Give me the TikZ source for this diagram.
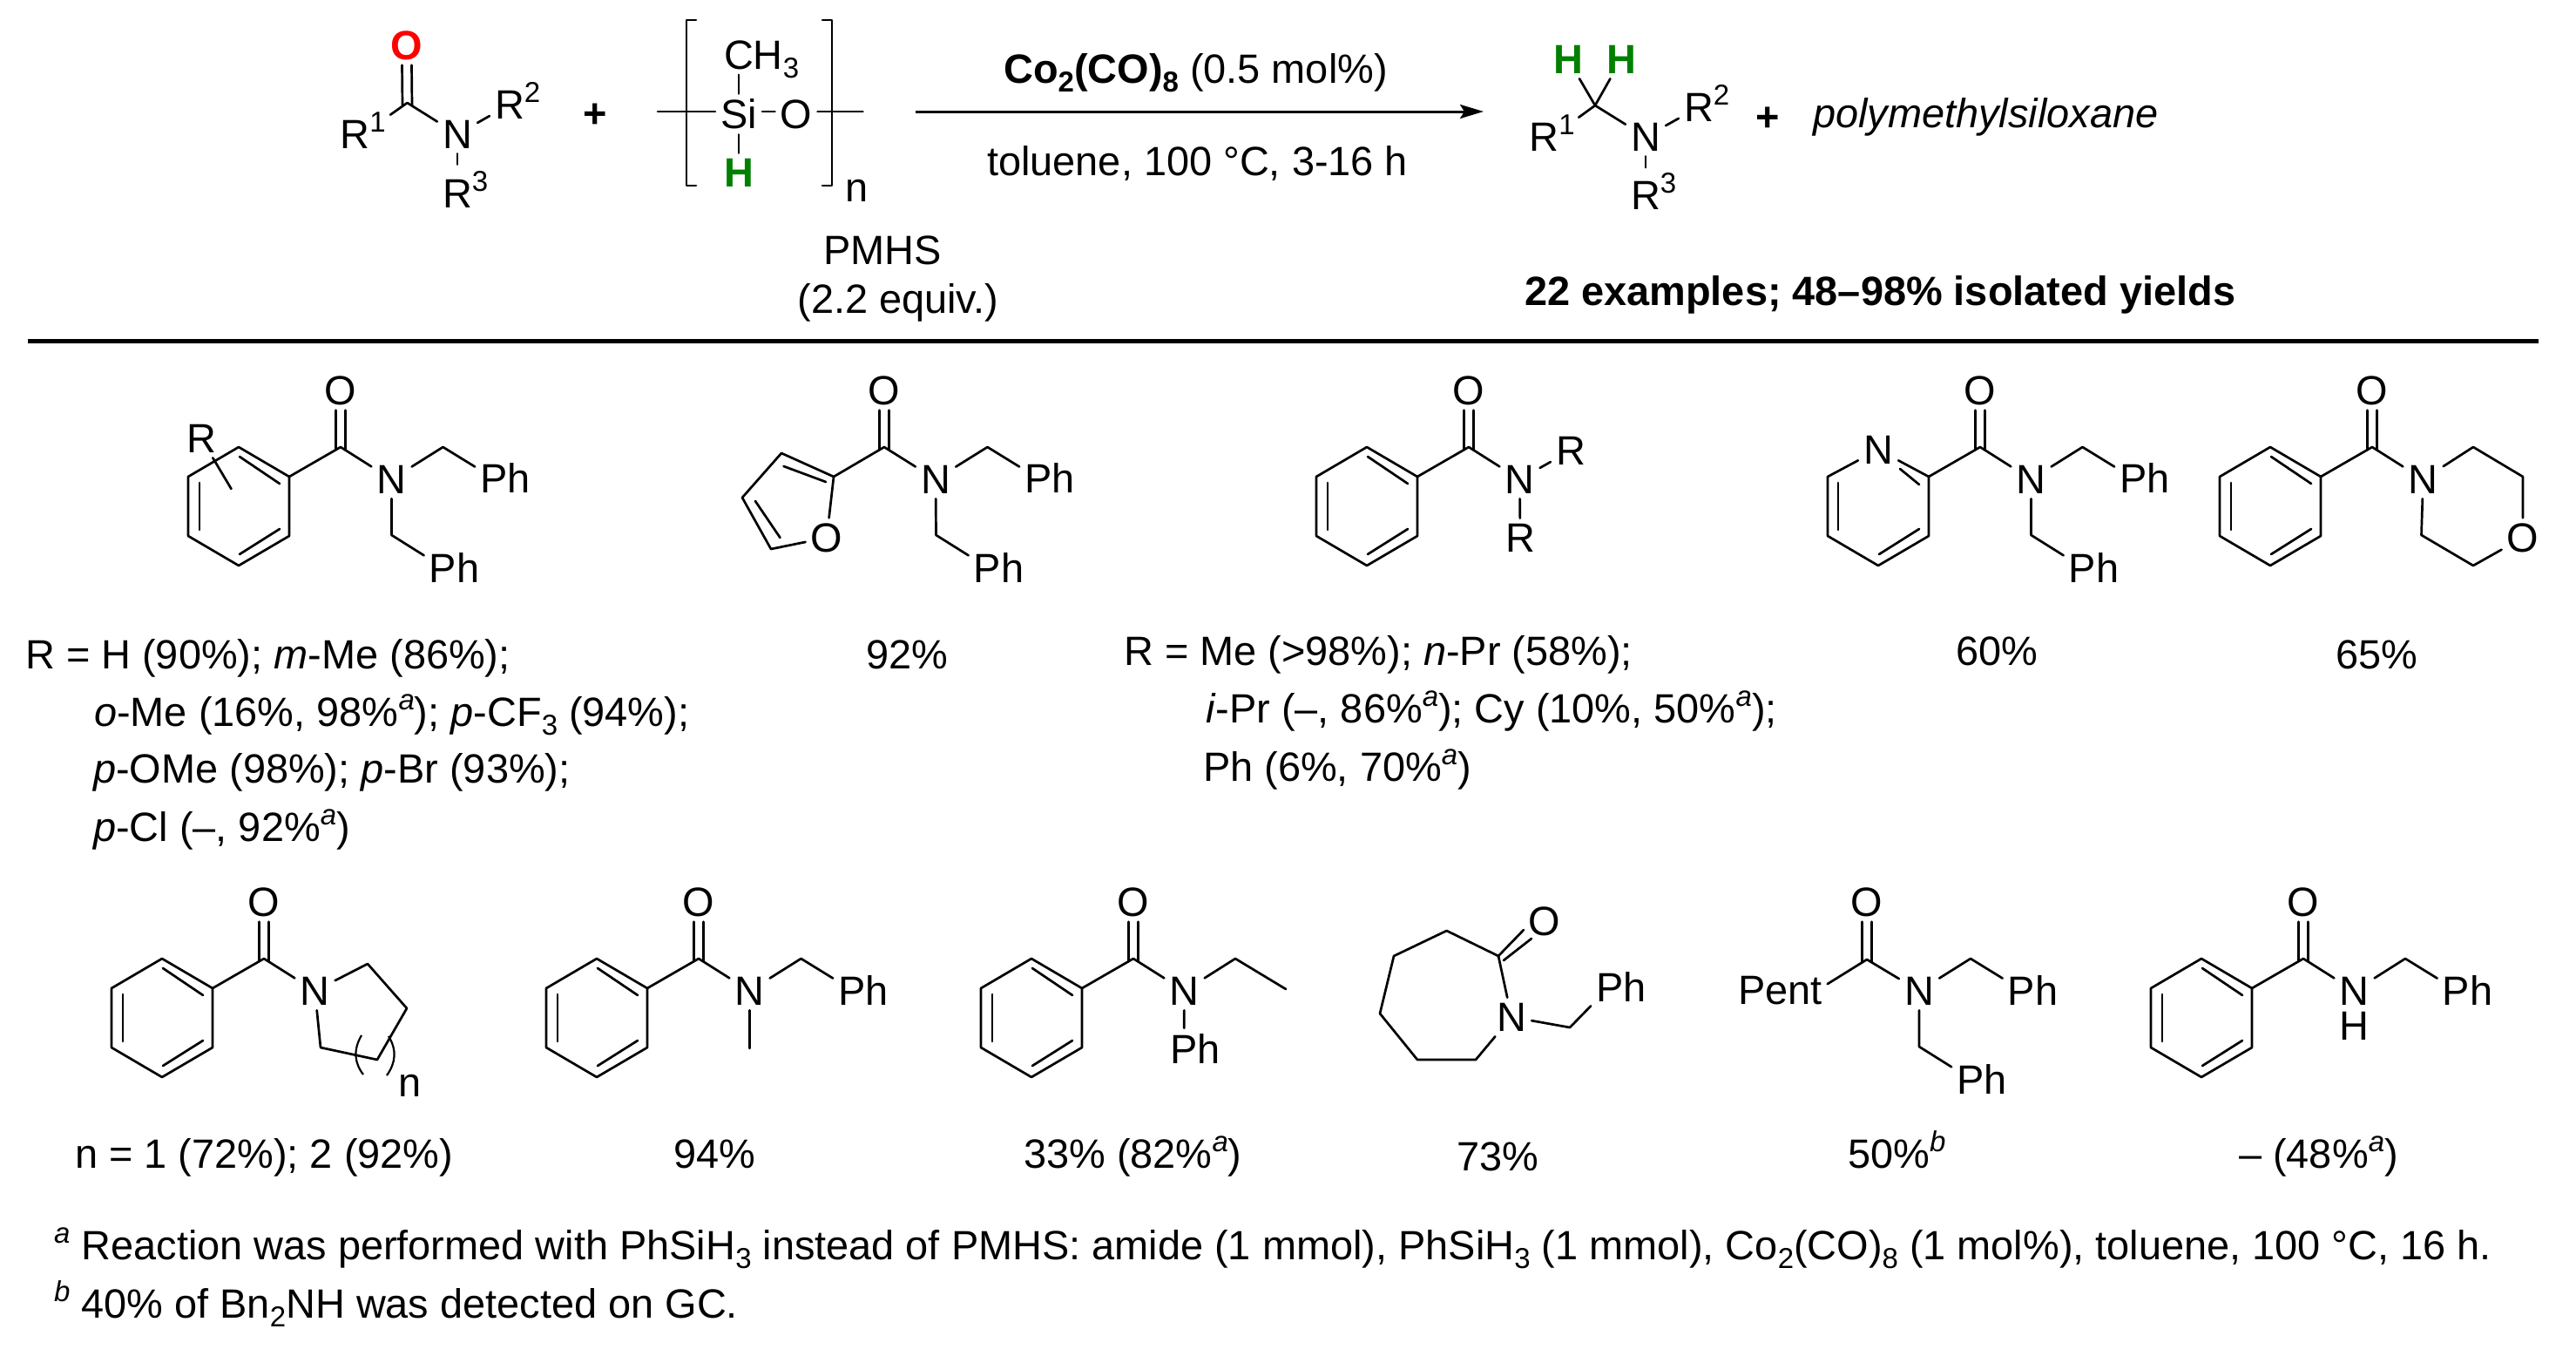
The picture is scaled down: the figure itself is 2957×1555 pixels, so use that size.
\documentclass[tikz,border=0pt]{standalone}
\usepackage{fontspec}
\setmainfont{Liberation Sans}
\usetikzlibrary{arrows.meta}
\definecolor{oxred}{HTML}{FF0000}
\definecolor{hgreen}{HTML}{008000}
\newcommand{\chemsup}[1]{\raisebox{.40em}[0pt][0pt]{\fontsize{33}{33}\selectfont #1}}
\newcommand{\chemsub}[1]{\raisebox{-.22em}[0pt][0pt]{\fontsize{33}{33}\selectfont #1}}
\tikzset{
  bond/.style={line width=2.7pt,line cap=round,line join=round,draw=black},
  atom/.style={font=\fontsize{46.9}{50}\selectfont,inner sep=6pt,text=black},
  label/.style={font=\fontsize{46.9}{50}\selectfont,inner sep=0pt,anchor=base west,text=black},
  redatom/.style={atom,text=oxred,font=\fontsize{46.9}{50}\selectfont\bfseries},
  greenatom/.style={atom,text=hgreen,font=\fontsize{46.9}{50}\selectfont\bfseries},
}
% aromatic six-membered ring, top vertex is drawn
\newcommand{\benzring}[3]{%
  \begin{scope}[shift={(#2,#3)}]
    \coordinate (#1a) at (0,-68);
    \coordinate (#1b) at (58,-34);
    \coordinate (#1c) at (58,34);
    \coordinate (#1d) at (0,68);
    \coordinate (#1e) at (-58,34);
    \coordinate (#1f) at (-58,-34);
    \draw[bond] (#1a) -- (#1b) -- (#1c) -- (#1d) -- (#1e) -- (#1f) -- cycle;
    \draw[bond] (1,-57) -- (47,-26);
    \draw[bond] (47,26) -- (1,55);
    \draw[bond] (-45,-27) -- (-45,27);
  \end{scope}}
% C(=O)-N with ring centre at (#2,#3)
\newcommand{\amidepart}[3]{%
  \begin{scope}[shift={(#2,#3)}]
    \coordinate (#1ipso) at (58,-34);
    \coordinate (#1C) at (117,-68);
    \node[atom] (#1O) at (117,-133) {O};
    \node[atom] (#1N) at (175.5,-31) {N};
    \draw[bond] (#1ipso) -- (#1C) -- (#1N);
    \draw[bond] ([xshift=-5.5pt,yshift=-3pt]#1C) -- ([xshift=-5.5pt]#1O.south);
    \draw[bond] ([xshift=5.5pt,yshift=-3pt]#1C) -- ([xshift=5.5pt]#1O.south);
  \end{scope}}
% upper benzyl on N at (#2,#3)
\newcommand{\bnup}[3]{%
  \begin{scope}[shift={(#2,#3)}]
    \coordinate (#1u) at (59,-37);
    \node[atom] (#1Pu) at (117.5,-1) {P\rlap{h}};
    \draw[bond] (#1N) -- (#1u) -- (#1Pu);
  \end{scope}}
% lower benzyl on N at (#2,#3)
\newcommand{\bndown}[3]{%
  \begin{scope}[shift={(#2,#3)}]
    \coordinate (#1l) at (0,64);
    \node[atom] (#1Pl) at (59,101) {P\rlap{h}};
    \draw[bond] (#1N) -- (#1l) -- (#1Pl);
  \end{scope}}
\begin{document}
\begin{tikzpicture}[x=1pt,y=-1pt]
\useasboundingbox (0,0) rectangle (2957,1555);
\fill[white] (0,0) rectangle (2957,1555);

% ---------- reaction: amide
\coordinate (rC) at (467.5,118);
\node[redatom] (rO) at (467,52) {O};
\node[atom] (rR1) at (416.5,154) {R\chemsup{1}};
\node[atom] (rN) at (525,154) {N};
\node[atom] (rR2) at (585,120) {R\rlap{\chemsup{2}}};
\node[atom] (rR3) at (525,222) {R\rlap{\chemsup{3}}};
\draw[bond] (rR1) -- (rC) -- (rN) -- (rR2);
\draw[bond,shorten >=11pt] (rN) -- (rR3);
\draw[bond] ([xshift=-5.5pt,yshift=-3pt]rC) -- ([xshift=-5.5pt]rO.south);
\draw[bond] ([xshift=5.5pt,yshift=-3pt]rC) -- ([xshift=5.5pt]rO.south);
\node[atom] (plusA) at (683,133) {\textbf{+}};

% ---------- PMHS
\coordinate (pL) at (755,128);
\coordinate (pR) at (990.5,128);
\node[atom] (pSi) at (848,131) {Si};
\node[atom] (pO) at (914,131) {O};
\node[atom] (pMe) at (848,63) {C\rlap{H\chemsub{3}}};
\node[greenatom] (pH) at (848,198) {H};
\draw[bond] (pL) -- (pL -| pSi.west);
\draw[bond] (pL -| pSi.east) -- (pL -| pO.west);
\draw[bond] (pL -| pO.east) -- (pR);
\draw[bond] (pSi) -- (pMe);
\draw[bond] (pSi) -- (pH);
\draw[bond] (799,23) -- (788,23) -- (788,213) -- (799,213);
\draw[bond] (944,23) -- (955,23) -- (955,213) -- (944,213);
\node[label] (pN) at (970,231) {n};
\node[label,anchor=base] (pName) at (1013,303) {PMHS};
\node[label,anchor=base] (pEq) at (1031,359) {(2.2 equiv.)};

% ---------- arrow
\coordinate (arS) at (1051,128);
\coordinate (arE) at (1703,128);
\draw[line width=3pt,-{Stealth[length=27pt,width=16pt,inset=5pt]}] (arS) -- (arE);
\node[label] (cat) at (1152,95) {\textbf{Co\chemsub{2}(CO)\chemsub{8}} (0.5 mol\%)};
\node[label] (cond) at (1133,201) {toluene, 100 °C, 3-16 h};

% ---------- product
\coordinate (qC) at (1831,121);
\node[greenatom] (qH1) at (1800,68) {H};
\node[greenatom] (qH2) at (1861,68) {H};
\node[atom] (qR1) at (1781.5,157) {R\chemsup{1}};
\node[atom] (qN) at (1889,157) {N};
\node[atom] (qR2) at (1950,123) {R\rlap{\chemsup{2}}};
\node[atom] (qR3) at (1889,224) {R\rlap{\chemsup{3}}};
\draw[bond] (qR1) -- (qC) -- (qN) -- (qR2);
\draw[bond] (qC) -- (qH1);
\draw[bond] (qC) -- (qH2);
\draw[bond,shorten >=9.5pt] (qN) -- (qR3);
\node[atom] (plusB) at (2029,137) {\textbf{+}};
\node[label] (poly) at (2081,146) {\itshape polymethylsiloxane};
\node[label] (exm) at (1750,350) {\bfseries 22 examples; 48–98\% isolated yields};
\coordinate (ruleL) at (32,391);
\coordinate (ruleR) at (2914,391);
\draw[line width=5pt] (ruleL) -- (ruleR);

% ---------- row 1, molecule 1
\benzring{a}{274}{581}
\amidepart{a}{274}{581}
\bnup{a}{449.5}{550}
\bndown{a}{449.5}{550}
\node[atom] (aR) at (231,503) {R};
\coordinate (aRend) at (265.5,561);
\draw[bond] (aR) -- (aRend);

% ---------- molecule 2: furan
\coordinate (f2) at (957,547);
\coordinate (f3) at (897,520);
\coordinate (f4) at (852,571);
\coordinate (f5) at (885,630);
\node[atom] (fO) at (949,617) {O};
\draw[bond] (fO) -- (f2) -- (f3) -- (f4) -- (f5) -- (fO);
\draw[bond] (899.5,535) -- (948,553);
\draw[bond] (867,575) -- (895.5,617);
\coordinate (bC) at (1015,513);
\node[atom] (bO) at (1015,448) {O};
\node[atom] (bN) at (1074,550) {N};
\draw[bond] (f2) -- (bC) -- (bN);
\draw[bond] ([xshift=-5.5pt,yshift=-3pt]bC) -- ([xshift=-5.5pt]bO.south);
\draw[bond] ([xshift=5.5pt,yshift=-3pt]bC) -- ([xshift=5.5pt]bO.south);
\bnup{b}{1074.5}{550}
\bndown{b}{1074.5}{550}

% ---------- molecule 3
\benzring{c}{1569}{581}
\amidepart{c}{1569}{581}
\node[atom] (cR1) at (1803,517) {R};
\node[atom] (cR2) at (1745,617) {R};
\draw[bond] (cN) -- (cR1);
\draw[bond] (cN) -- (cR2);

% ---------- molecule 4: pyridine
\begin{scope}[shift={(2156,581)}]
  \node[atom] (dRN) at (0,-65) {N};
  \coordinate (dr1) at (58,-34);
  \coordinate (dr2) at (58,34);
  \coordinate (dr3) at (0,68);
  \coordinate (dr4) at (-58,34);
  \coordinate (dr5) at (-58,-34);
  \draw[bond] (dRN) -- (dr1) -- (dr2) -- (dr3) -- (dr4) -- (dr5) -- (dRN);
  \draw[bond] (25,-43) -- (47,-25);
  \draw[bond] (47,26) -- (1,55);
  \draw[bond] (-46,-27) -- (-46,27);
\end{scope}
\amidepart{d}{2156}{581}
\bnup{d}{2331.5}{550}
\bndown{d}{2331.5}{550}

% ---------- molecule 5: morpholine
\benzring{e}{2606}{581}
\amidepart{e}{2606}{581}
\coordinate (em1) at (2839,513);
\coordinate (em2) at (2896,547);
\node[atom] (eO2) at (2896,617) {O};
\coordinate (em3) at (2839,649);
\coordinate (em4) at (2779.5,614);
\draw[bond] (eN) -- (em1) -- (em2) -- (eO2) -- (em3) -- (em4) -- (eN);

% ---------- row 1 captions
\node[label] (t1a) at (29,767) {R = H (90\%); \textit{m}-Me (86\%);};
\node[label] (t1b) at (108,833) {\textit{o}-Me (16\%, 98\%\chemsup{\itshape a}); \textit{p}-CF\chemsub{3} (94\%);};
\node[label] (t1c) at (107,898) {\textit{p}-OMe (98\%); \textit{p}-Br (93\%);};
\node[label] (t1d) at (107,965) {\textit{p}-Cl (–, 92\%\chemsup{\itshape a})};
\node[label] (t2) at (994,767) {92\%};
\node[label] (t3a) at (1290,763) {R = Me (>98\%); \textit{n}-Pr (58\%);};
\node[label] (t3b) at (1384,829) {\textit{i}-Pr (–, 86\%\chemsup{\itshape a}); Cy (10\%, 50\%\chemsup{\itshape a});};
\node[label] (t3c) at (1381,896) {Ph (6\%, 70\%\chemsup{\itshape a})};
\node[label] (t4) at (2245,763) {60\%};
\node[label] (t5) at (2681,767) {65\%};

% ---------- row 2, molecule 6
\benzring{g}{186}{1168}
\amidepart{g}{186}{1168}
\coordinate (g1) at (422,1106);
\coordinate (g2) at (467,1157);
\coordinate (g3) at (433,1216);
\coordinate (g4) at (368,1202);
\draw[bond] (gN) -- (g1) -- (g2) -- (g3) -- (g4) -- (gN);
\draw[line width=2.2pt] (415,1188) .. controls (405,1205) and (407,1220) .. (417,1233);
\draw[line width=2.2pt] (446,1189) .. controls (456,1205) and (454,1220) .. (444,1234);
\node[label] (gn) at (457,1258) {n};

% ---------- molecule 7
\benzring{h}{685}{1168}
\amidepart{h}{685}{1168}
\bnup{h}{860.5}{1137}
\coordinate (hMe) at (860.5,1203);
\draw[bond] (hN) -- (hMe);

% ---------- molecule 8
\benzring{i}{1184}{1168}
\amidepart{i}{1184}{1168}
\coordinate (ie1) at (1418,1100);
\coordinate (ie2) at (1476,1135);
\node[atom] (iPh) at (1359,1203) {P\rlap{h}};
\draw[bond] (iN) -- (ie1) -- (ie2);
\draw[bond] (iN) -- (iPh);

% ---------- molecule 9: caprolactam
\coordinate (jC) at (1720,1097);
\coordinate (j1) at (1660.6,1068);
\coordinate (j2) at (1600,1097);
\coordinate (j3) at (1584,1163);
\coordinate (j4) at (1627,1216);
\coordinate (j5) at (1694,1216);
\node[atom] (jN) at (1735,1167) {N};
\node[atom] (jO) at (1773,1057) {O};
\coordinate (jB) at (1802,1179);
\node[atom] (jPh) at (1848,1132) {P\rlap{h}};
\coordinate (jOa) at (1749,1067);
\coordinate (jOb) at (1758,1077);
\coordinate (jCb) at (1726,1102);
\draw[bond] (jN) -- (jC) -- (j1) -- (j2) -- (j3) -- (j4) -- (j5) -- (jN);
\draw[bond] (jC) -- (jOa);
\draw[bond] (jCb) -- (jOb);
\draw[bond] (jN) -- (jB) -- (jPh);

% ---------- molecule 10
\coordinate (kC) at (2143,1101);
\node[atom] (kO) at (2143,1035) {O};
\node[atom] (kN) at (2203,1137) {N};
\node[atom] (kPent) at (2085,1137) {\llap{Pen}t};
\draw[bond] (kPent) -- (kC) -- (kN);
\draw[bond] ([xshift=-5.5pt,yshift=-3pt]kC) -- ([xshift=-5.5pt]kO.south);
\draw[bond] ([xshift=5.5pt,yshift=-3pt]kC) -- ([xshift=5.5pt]kO.south);
\bnup{k}{2203}{1137}
\bndown{k}{2203}{1137}

% ---------- molecule 11
\benzring{m}{2527}{1168}
\amidepart{m}{2527}{1168}
\bnup{m}{2702}{1137}
\node[atom,inner sep=0pt] (mH) at (2702,1177) {H};

% ---------- row 2 captions
\node[label] (u1) at (86,1340) {n = 1 (72\%); 2 (92\%)};
\node[label] (u2) at (773,1340) {94\%};
\node[label] (u3) at (1175,1340) {33\% (82\%\chemsup{\itshape a})};
\node[label] (u4) at (1672,1343) {73\%};
\node[label] (u5) at (2121,1340) {50\%\chemsup{\itshape b}};
\node[label] (u6) at (2570,1340) {– (48\%\chemsup{\itshape a})};

% ---------- footnotes
\node[label] (fn1) at (62,1445) {\chemsup{\itshape a} Reaction was performed with PhSiH\chemsub{3} instead of PMHS: amide (1 mmol), PhSiH\chemsub{3} (1 mmol), Co\chemsub{2}(CO)\chemsub{8} (1 mol\%), toluene, 100 °C, 16 h.};
\node[label] (fn2) at (62,1512) {\chemsup{\itshape b} 40\% of Bn\chemsub{2}NH was detected on GC.};
\end{tikzpicture}
\end{document}
